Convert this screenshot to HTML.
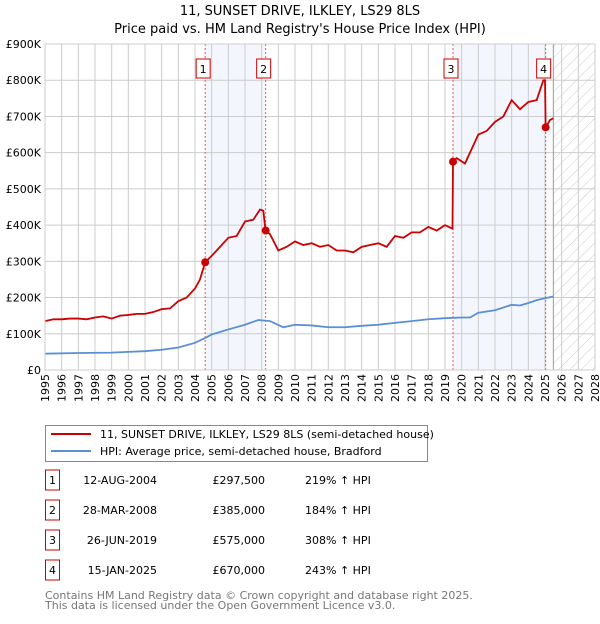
<!DOCTYPE html>
<html><head><meta charset="utf-8"><style>
body{margin:0;background:#fff;font-family:"DejaVu Sans","Liberation Sans",sans-serif;}
svg text{font-family:"DejaVu Sans","Liberation Sans",sans-serif;}
</style></head><body>
<svg id="c" width="600" height="620" xmlns="http://www.w3.org/2000/svg">
<defs><pattern id="hatch" width="8" height="8" patternUnits="userSpaceOnUse" patternTransform="rotate(45)"><line x1="0" y1="0" x2="0" y2="8" stroke="#ccc" stroke-width="1"/></pattern></defs>
<text x="300" y="15" text-anchor="middle" font-size="13">11, SUNSET DRIVE, ILKLEY, LS29 8LS</text>
<text x="300" y="33" text-anchor="middle" font-size="13">Price paid vs. HM Land Registry's House Price Index (HPI)</text>
<g id="plot"></g>
<g>
<rect x="45.5" y="425.5" width="382" height="36" fill="#fff" stroke="#888"/>
<line x1="51" y1="434" x2="91" y2="434" stroke="#cc0000" stroke-width="2"/>
<text x="100" y="438" font-size="11">11, SUNSET DRIVE, ILKLEY, LS29 8LS (semi-detached house)</text>
<line x1="51" y1="451" x2="91" y2="451" stroke="#5b8fd4" stroke-width="2"/>
<text x="100" y="455" font-size="11">HPI: Average price, semi-detached house, Bradford</text>
</g>
<g id="table" font-size="11"></g>
<text x="45" y="599" font-size="11" fill="#777">Contains HM Land Registry data © Crown copyright and database right 2025.</text>
<text x="45" y="609" font-size="11" fill="#777">This data is licensed under the Open Government Licence v3.0.</text>
</svg>
<script>
const yTicks=[0,100,200,300,400,500,600,700,800,900];
const yTickLabels=["£0","£100K","£200K","£300K","£400K","£500K","£600K","£700K","£800K","£900K"];
const xYears=[1995,1996,1997,1998,1999,2000,2001,2002,2003,2004,2005,2006,2007,2008,2009,2010,2011,2012,2013,2014,2015,2016,2017,2018,2019,2020,2021,2022,2023,2024,2025,2026,2027,2028];
const redT=[1995,1995.5,1996,1996.5,1997,1997.5,1998,1998.5,1999,1999.5,2000,2000.5,2001,2001.5,2002,2002.5,2003,2003.5,2004,2004.3,2004.61,2005,2005.5,2006,2006.5,2007,2007.5,2007.9,2008.1,2008.23,2008.5,2009,2009.5,2010,2010.5,2011,2011.5,2012,2012.5,2013,2013.5,2014,2014.5,2015,2015.5,2016,2016.5,2017,2017.5,2018,2018.5,2019,2019.45,2019.48,2019.7,2020.2,2020.5,2021,2021.5,2022,2022.5,2023,2023.5,2024,2024.5,2024.9,2025.0,2025.04,2025.3,2025.5];
const redV=[135,140,140,142,142,140,145,148,142,150,152,155,155,160,168,170,190,200,225,250,297.5,315,340,365,370,410,415,443,440,385,375,330,340,355,345,350,340,345,330,330,325,340,345,350,340,370,365,380,380,395,385,400,390,575,585,570,600,650,660,685,700,745,720,740,745,800,800,670,690,695];
const blueT=[1995,1997,1999,2000,2001,2002,2003,2004,2004.6,2005,2006,2007,2007.8,2008.5,2009.3,2010,2011,2012,2013,2014,2015,2016,2017,2018,2019,2020,2020.5,2021,2022,2023,2023.5,2024,2024.5,2025,2025.5];
const blueV=[45,47,48,50,52,56,62,75,88,98,112,125,138,135,118,125,123,118,118,122,125,130,135,140,143,145,145,158,165,180,178,185,193,198,203];
const saleNo=["1","2","3","4"];
const saleT=[2004.61,2008.24,2019.48,2025.04];
const saleV=[297.5,385,575,670];
const saleDates=["12-AUG-2004","28-MAR-2008","26-JUN-2019","15-JAN-2025"];
const salePrices=["£297,500","£385,000","£575,000","£670,000"];
const saleHpi=["219% ↑ HPI","184% ↑ HPI","308% ↑ HPI","243% ↑ HPI"];
const X0=45,X1=595,Y0=370,Y1=44;
const xs=t=>X0+(t-1995)*(X1-X0)/33;
const ys=v=>Y0-v*(Y0-Y1)/900;
const NS="http://www.w3.org/2000/svg";
function mk(tag,attrs,parent){const e=document.createElementNS(NS,tag);for(const k in attrs)e.setAttribute(k,attrs[k]);parent.appendChild(e);return e;}
const g=document.getElementById('plot');
// shaded bands
let b=mk('rect',{x:xs(saleT[0]),y:Y1,width:xs(saleT[1])-xs(saleT[0]),height:Y0-Y1,fill:'#eef3fc',opacity:0.7},g);


b=mk('rect',{x:xs(saleT[2]),y:Y1,width:xs(saleT[3])-xs(saleT[2]),height:Y0-Y1,fill:'#eef3fc',opacity:0.7},g);


const hx=xs(2025.5);
b=mk('rect',{x:hx,y:Y1,width:X1-hx,height:Y0-Y1,fill:'url(#hatch)'},g);


yTicks.forEach((v,i)=>{mk('line',{x1:X0,x2:X1,y1:ys(v),y2:ys(v),stroke:'#ccc'},g);
const t=mk('text',{x:X0-4,y:ys(v)+4,'text-anchor':'end','font-size':11},g);t.textContent=yTickLabels[i];

});
xYears.forEach(y=>{mk('line',{x1:xs(y),x2:xs(y),y1:Y1,y2:Y0,stroke:'#ccc'},g);
const t=mk('text',{transform:`translate(${xs(y)+4},${Y0+4}) rotate(-90)`,'text-anchor':'end','font-size':11},g);t.textContent=y;

});
mk('line',{x1:hx,x2:hx,y1:Y1,y2:Y0,stroke:'#999'},g);
saleT.forEach((t,i)=>{mk('line',{x1:xs(t),x2:xs(t),y1:Y1,y2:Y0,stroke:'#e55','stroke-dasharray':'2,2'},g);
const bx=mk('g',{},g);


mk('rect',{x:xs(t)-9,y:59,width:14,height:19,fill:'#fff',stroke:'#c00'},bx);
const tx=mk('text',{x:xs(t)-2,y:73,'text-anchor':'middle','font-size':11},bx);tx.textContent=saleNo[i];});
let pb=mk('polyline',{points:blueT.map((t,i)=>xs(t)+','+ys(blueV[i])).join(' '),fill:'none',stroke:'#5b8fd4','stroke-width':1.8},g);


let pr=mk('polyline',{points:redT.map((t,i)=>xs(t)+','+ys(redV[i])).join(' '),fill:'none',stroke:'#cc0000','stroke-width':1.8},g);


saleT.forEach((t,i)=>{const c=mk('circle',{cx:xs(t),cy:ys(saleV[i]),r:4,fill:'#cc0000'},g);

});
mk('rect',{x:X0,y:Y1,width:X1-X0,height:Y0-Y1,fill:'none',stroke:'#ccc'},g);
const tb=document.getElementById('table');
saleNo.forEach((n,i)=>{const y=483+i*30;
const r=mk('g',{},tb);


mk('rect',{x:45.5,y:y-13,width:14,height:20,fill:'#fff',stroke:'#c00'},r);
let t=mk('text',{x:52.5,y:y+1,'text-anchor':'middle'},r);t.textContent=n;
t=mk('text',{x:157,y:y+1,'text-anchor':'end'},r);t.textContent=saleDates[i];
t=mk('text',{x:265,y:y+1,'text-anchor':'end'},r);t.textContent=salePrices[i];
t=mk('text',{x:305,y:y+1},r);t.textContent=saleHpi[i];});
</script>
</body></html>
